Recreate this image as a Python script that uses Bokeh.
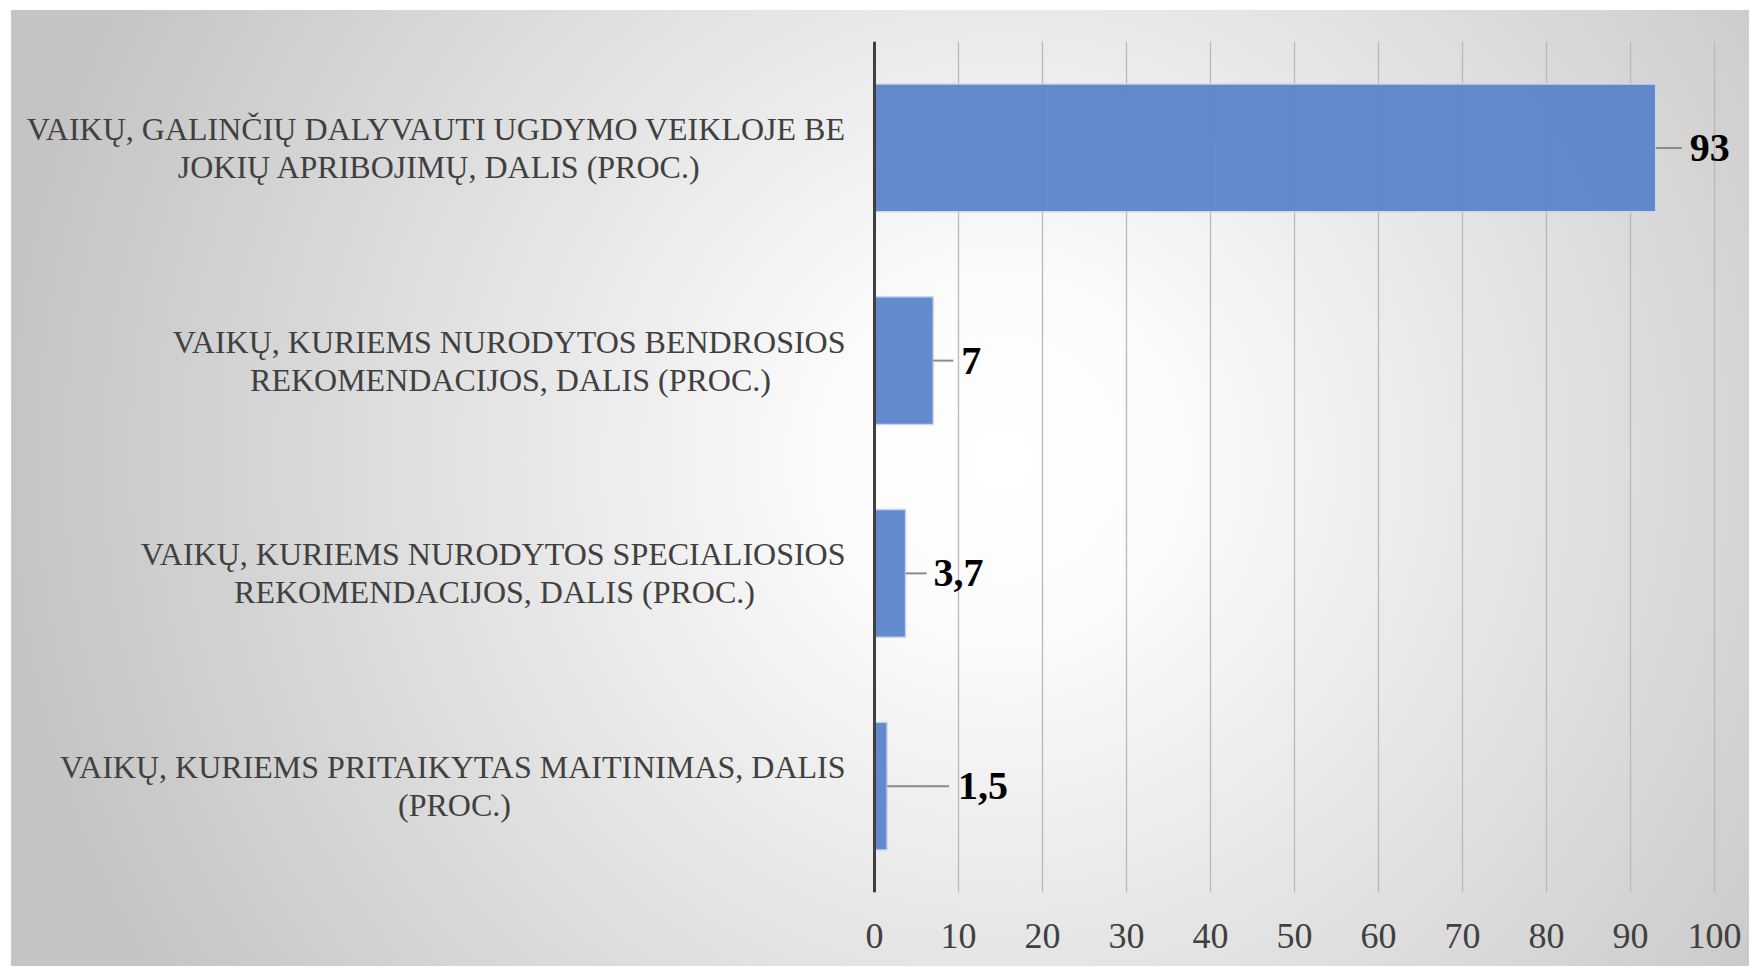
from bokeh.plotting import figure
from bokeh.models import FactorRange, Range1d, FixedTicker, ColumnDataSource, LabelSet, Span
from bokeh.core.properties import value
from bokeh.embed import file_html
from bokeh.resources import INLINE

categories = [
    "VAIKŲ, GALINČIŲ DALYVAUTI UGDYMO VEIKLOJE BE\nJOKIŲ APRIBOJIMŲ, DALIS (PROC.)",
    "VAIKŲ, KURIEMS NURODYTOS BENDROSIOS\nREKOMENDACIJOS, DALIS (PROC.)",
    "VAIKŲ, KURIEMS NURODYTOS SPECIALIOSIOS\nREKOMENDACIJOS, DALIS (PROC.)",
    "VAIKŲ, KURIEMS PRITAIKYTAS MAITINIMAS, DALIS\n(PROC.)",
]
values = [93, 7, 3.7, 1.5]
value_labels = ["93", "7", "3,7", "1,5"]
x_ticks = [0, 10, 20, 30, 40, 50, 60, 70, 80, 90, 100]

# styling only: label placement in pixels
label_offsets = [34, 28, 28, 71]       # bar end -> value label
leader_lengths = [26, 20, 21, 62]      # bar end -> leader end
cat_line2_center = [435, 364, 380, 420]  # axis -> centre of 2nd label line

W, H = 1738, 956
LEFT, TOP, BOTTOM, RIGHT = 863, 31, 74, 2
AXIS_PX = 840
px_per_unit = AXIS_PX / 100.0
x_start = -LEFT / px_per_unit
x_end = (W - LEFT - RIGHT) / px_per_unit

p = figure(
    width=W, height=H,
    y_range=FactorRange(*reversed(categories)),
    x_range=Range1d(x_start, x_end),
    y_axis_location=None,
    output_backend="svg", toolbar_location=None,
    min_border_left=0, min_border_right=RIGHT,
    min_border_top=TOP, min_border_bottom=BOTTOM,
)
p.styles = {
    "background": "radial-gradient(circle at 57% 47%, #ffffff 0px, #fcfcfc 160px, #c4c4c4 1000px)",
    "margin-left": "11px",
    "margin-top": "10px",
}
p.background_fill_color = None
p.border_fill_color = None
p.outline_line_color = None

line1 = [c.split("\n")[0] for c in categories]
line2 = [c.split("\n")[1] for c in categories]

src = ColumnDataSource(dict(
    cat=categories,
    val=values,
    lab=value_labels,
    off=label_offsets,
    lead_end=[v + l / px_per_unit for v, l in zip(values, leader_lengths)],
    l1=line1,
    l2=line2,
    l2off=[-c for c in cat_line2_center],
))

p.hbar(y="cat", right="val", left=0, height=0.6, source=src,
       fill_color="#5B84C9", fill_alpha=0.95,
       line_color="#c9d6ee", line_width=1.5)

p.segment(x0="val", y0="cat", x1="lead_end", y1="cat", source=src,
          line_color="#8a8a8a", line_width=2)

# category labels (two lines: first right-aligned, second centred under it)
p.text(x=0, y="cat", text="l1", source=src, x_offset=-29, y_offset=-19,
       text_align="right", text_baseline="middle",
       text_font=value("Liberation Serif"), text_font_size="32px",
       text_color="#404040")
p.text(x=0, y="cat", text="l2", source=src, x_offset="l2off", y_offset=19,
       text_align="center", text_baseline="middle",
       text_font=value("Liberation Serif"), text_font_size="32px",
       text_color="#404040")

labels = LabelSet(x="val", y="cat", text="lab", x_offset="off", source=src,
                  text_font="Liberation Serif", text_font_style="bold",
                  text_font_size="40px", text_color="#000000",
                  text_baseline="middle", text_align="left")
p.add_layout(labels)

# category axis line at x = 0
p.add_layout(Span(location=0, dimension="height", line_color="#404040", line_width=3))

# x axis
p.xaxis.ticker = FixedTicker(ticks=x_ticks)
p.xaxis.axis_line_color = None
p.xaxis.major_tick_line_color = None
p.xaxis.minor_tick_line_color = None
p.xaxis.major_tick_out = 0
p.xaxis.major_tick_in = 0
p.xaxis.major_label_standoff = 31
p.xaxis.major_label_text_font = "Liberation Serif"
p.xaxis.major_label_text_font_size = "36px"
p.xaxis.major_label_text_color = "#404040"

p.xgrid.grid_line_color = "#b8b8b8"
p.xgrid.grid_line_width = 1.3
p.ygrid.grid_line_color = None

open("out.html", "w").write(file_html(p, INLINE))
